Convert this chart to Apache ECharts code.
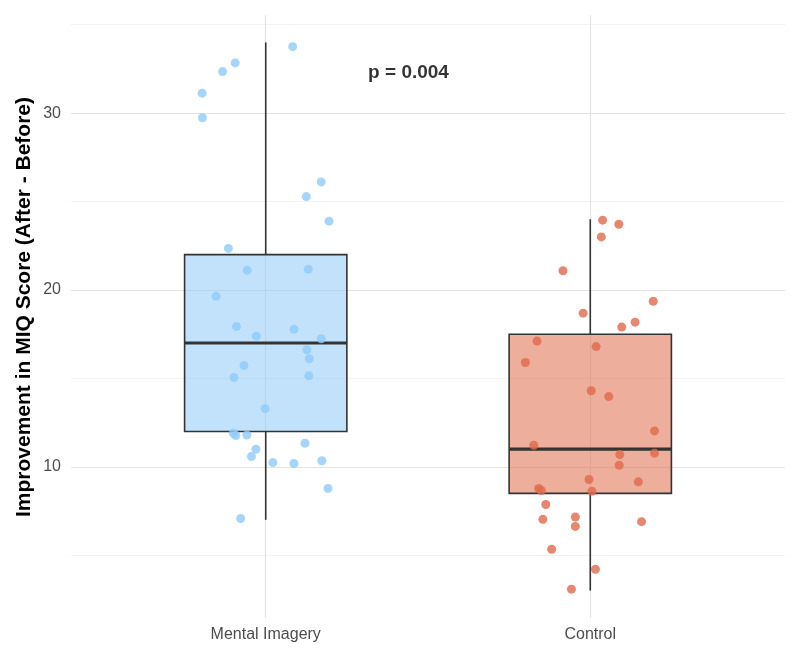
<!DOCTYPE html>
<html lang="en">
<head>
    <meta charset="UTF-8">
    <title>MIQ improvement</title>
    <style>
        html, body { margin: 0; padding: 0; background: #fff; }
    </style>
</head>
<body>
<div id="main" style="width: 800px;height:659px;"></div>
<script src="https://cdn.jsdelivr.net/npm/echarts@6/dist/echarts.min.js"></script>
<script type="text/javascript">
    // data
    var categories = ["Mental Imagery", "Control"];

    // box stats: [min, Q1, median, Q3, max]
    var mentalBox = [7.0, 12.0, 17.0, 22.0, 34.0];
    var controlBox = [3.0, 8.5, 11.0, 17.5, 24.0];

    // jittered points: score and horizontal jitter (in category units)
    var mentalScores = [33.76, 32.84, 32.35, 31.13, 29.74, 26.11, 25.28, 23.89, 22.35, 21.11, 21.17,
        19.64, 17.93, 17.78, 17.39, 17.24, 16.62, 16.11, 15.73, 15.05, 15.15, 13.29, 11.90, 11.77,
        11.80, 11.33, 10.99, 10.58, 10.24, 10.19, 10.34, 8.78, 7.08];
    var mentalJitter = [0.083, -0.094, -0.133, -0.196, -0.195, 0.171, 0.125, 0.195, -0.115, -0.057, 0.131,
        -0.153, -0.090, 0.087, -0.029, 0.171, 0.127, 0.134, -0.067, -0.098, 0.133, -0.002, -0.100, -0.092,
        -0.058, 0.121, -0.030, -0.044, 0.022, 0.087, 0.173, 0.192, -0.077];

    var controlScores = [23.95, 23.72, 23.00, 21.09, 19.36, 18.69, 18.18, 17.90, 17.11, 16.80, 15.90,
        14.30, 13.97, 12.03, 11.22, 10.69, 10.77, 10.09, 9.28, 9.15, 8.78, 8.66, 8.62, 7.87, 7.03,
        7.16, 6.63, 6.90, 5.34, 4.21, 3.08];
    var controlJitter = [0.038, 0.088, 0.034, -0.084, 0.194, -0.022, 0.138, 0.097, -0.164, 0.018, -0.200,
        0.003, 0.057, 0.198, -0.174, 0.091, 0.198, 0.089, -0.004, 0.148, -0.159, -0.151, 0.005, -0.137, -0.146,
        -0.046, -0.046, 0.158, -0.119, 0.016, -0.058];

    var majorTicks = [10, 20, 30];
    var minorTicks = [5, 15, 25, 35];
    var pValueText = "p = 0.004";
    var pValuePos = [1.44, 32.3];

    var boxFills = ["rgba(144,202,249,0.55)", "rgba(224,112,80,0.57)"];
    var pointColors = ["#90CAF9", "#E0694B"];
    var font = "Liberation Sans, Arial, sans-serif";

    var myChart = echarts.init(document.getElementById("main"));

    function toPoints(scores, jitter, pos) {
        return scores.map(function (s, i) { return [pos + jitter[i], s]; });
    }

    var boxData = [[1].concat(mentalBox), [2].concat(controlBox)];

    function renderBox(params, api) {
        var x = api.value(0);
        var lo = api.coord([x, api.value(1)]);
        var q1 = api.coord([x, api.value(2)]);
        var med = api.coord([x, api.value(3)]);
        var q3 = api.coord([x, api.value(4)]);
        var hi = api.coord([x, api.value(5)]);
        var w = api.size([0.5, 0])[0];
        var line = { stroke: "#333333", lineWidth: 1.6 };
        return {
            type: "group",
            children: [
                { type: "line", shape: { x1: lo[0], y1: lo[1], x2: q1[0], y2: q1[1] }, style: line },
                { type: "line", shape: { x1: q3[0], y1: q3[1], x2: hi[0], y2: hi[1] }, style: line },
                {
                    type: "rect",
                    shape: { x: q3[0] - w / 2, y: q3[1], width: w, height: q1[1] - q3[1] },
                    style: { fill: boxFills[params.dataIndex], stroke: "#333333", lineWidth: 1.6 }
                },
                {
                    type: "line",
                    shape: { x1: med[0] - w / 2, y1: med[1], x2: med[0] + w / 2, y2: med[1] },
                    style: { stroke: "#333333", lineWidth: 3.2 }
                }
            ]
        };
    }

    var gridLines = [];
    majorTicks.forEach(function (v) {
        gridLines.push({ yAxis: v, lineStyle: { color: "#E3E3E3", width: 1.2, type: "solid" } });
    });
    minorTicks.forEach(function (v) {
        gridLines.push({ yAxis: v, lineStyle: { color: "#F2F2F2", width: 1, type: "solid" } });
    });
    [1, 2].forEach(function (v) {
        gridLines.push({ xAxis: v, lineStyle: { color: "#E3E3E3", width: 1.2, type: "solid" } });
    });

    var option = {
        animation: false,
        backgroundColor: "#ffffff",
        textStyle: { fontFamily: font },
        grid: { left: 71, right: 15, top: 15, bottom: 41 },
        xAxis: {
            type: "value",
            min: 0.4,
            max: 2.6,
            axisLine: { show: false },
            axisTick: { show: false },
            splitLine: { show: false },
            axisLabel: {
                customValues: [1, 2],
                formatter: function (v) { return categories[Math.round(v) - 1]; },
                fontSize: 16,
                color: "#4D4D4D",
                margin: 9
            }
        },
        yAxis: {
            type: "value",
            min: 1.45,
            max: 35.55,
            axisLine: { show: false },
            axisTick: { show: false },
            splitLine: { show: false },
            axisLabel: {
                customValues: majorTicks,
                fontSize: 16,
                color: "#4D4D4D",
                margin: 10
            }
        },
        graphic: [{
            type: "text",
            x: 24,
            y: 307,
            rotation: Math.PI / 2,
            style: {
                text: "Improvement in MIQ Score (After - Before)",
                font: "bold 21px " + font,
                fill: "#000000",
                textAlign: "center",
                textVerticalAlign: "middle"
            }
        }],
        series: [
            {
                // background grid
                type: "line",
                data: [],
                z: 1,
                silent: true,
                markLine: {
                    silent: true,
                    z: 1,
                    symbol: ["none", "none"],
                    label: { show: false },
                    data: gridLines
                }
            },
            {
                type: "custom",
                z: 10,
                renderItem: renderBox,
                data: boxData
            },
            {
                name: categories[0],
                type: "scatter",
                z: 11,
                symbolSize: 9,
                itemStyle: { color: pointColors[0] },
                data: toPoints(mentalScores, mentalJitter, 1)
            },
            {
                name: categories[1],
                type: "scatter",
                z: 11,
                symbolSize: 9,
                itemStyle: { color: pointColors[1] },
                data: toPoints(controlScores, controlJitter, 2)
            },
            {
                type: "scatter",
                z: 12,
                symbolSize: 0,
                silent: true,
                label: {
                    show: true,
                    position: "inside",
                    formatter: pValueText,
                    fontSize: 19,
                    fontWeight: "bold",
                    color: "#000000",
                    textBorderWidth: 0
                },
                data: [pValuePos]
            }
        ]
    };

    myChart.setOption(option);
</script>
</body>
</html>
